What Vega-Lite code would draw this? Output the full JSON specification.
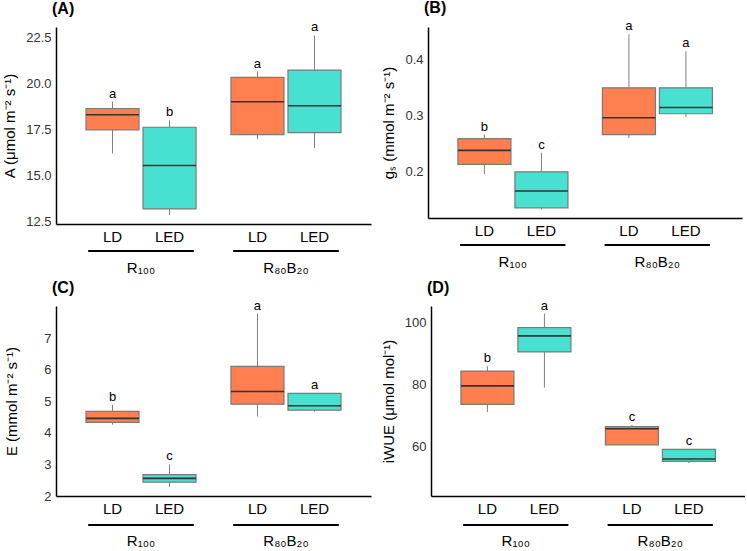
{
  "$schema": "https://vega.github.io/schema/vega-lite/v6.json",
  "background": "white",
  "padding": {"left": 2, "top": 0, "right": 0, "bottom": 0},
  "config": {
    "font": "Liberation Sans",
    "view": {"stroke": null},
    "axis": {"grid": false, "ticks": false, "domainColor": "black", "domainWidth": 1.5, "labelFont": "Liberation Sans", "titleFont": "Liberation Sans", "labelOverlap": false},
    "title": {"anchor": "start", "frame": "group", "fontSize": 16, "fontWeight": "bold", "offset": 0, "dx": -4, "color": "black"}
  },
  "datasets": {
    "stats": [
      {"panel": "A", "group": "R₁₀₀", "light": "LD", "lower": 16.18, "q1": 17.46, "median": 18.28, "q3": 18.62, "upper": 18.99, "letter": "a"},
      {"panel": "A", "group": "R₁₀₀", "light": "LED", "lower": 12.83, "q1": 13.16, "median": 15.52, "q3": 17.6, "upper": 17.98, "letter": "b"},
      {"panel": "A", "group": "R₈₀B₂₀", "light": "LD", "lower": 16.94, "q1": 17.2, "median": 18.99, "q3": 20.31, "upper": 20.63, "letter": "a"},
      {"panel": "A", "group": "R₈₀B₂₀", "light": "LED", "lower": 16.47, "q1": 17.31, "median": 18.77, "q3": 20.71, "upper": 22.59, "letter": "a"},
      {"panel": "B", "group": "R₁₀₀", "light": "LD", "lower": 0.196, "q1": 0.213, "median": 0.238, "q3": 0.259, "upper": 0.266, "letter": "b"},
      {"panel": "B", "group": "R₁₀₀", "light": "LED", "lower": 0.133, "q1": 0.136, "median": 0.166, "q3": 0.2, "upper": 0.234, "letter": "c"},
      {"panel": "B", "group": "R₈₀B₂₀", "light": "LD", "lower": 0.26, "q1": 0.266, "median": 0.296, "q3": 0.349, "upper": 0.444, "letter": "a"},
      {"panel": "B", "group": "R₈₀B₂₀", "light": "LED", "lower": 0.297, "q1": 0.303, "median": 0.314, "q3": 0.349, "upper": 0.414, "letter": "a"},
      {"panel": "C", "group": "R₁₀₀", "light": "LD", "lower": 4.26, "q1": 4.33, "median": 4.46, "q3": 4.68, "upper": 4.89, "letter": "b"},
      {"panel": "C", "group": "R₁₀₀", "light": "LED", "lower": 2.29, "q1": 2.44, "median": 2.56, "q3": 2.68, "upper": 3.0, "letter": "c"},
      {"panel": "C", "group": "R₈₀B₂₀", "light": "LD", "lower": 4.52, "q1": 4.91, "median": 5.31, "q3": 6.11, "upper": 7.78, "letter": "a"},
      {"panel": "C", "group": "R₈₀B₂₀", "light": "LED", "lower": 4.67, "q1": 4.72, "median": 4.86, "q3": 5.25, "upper": 5.25, "letter": "a"},
      {"panel": "D", "group": "R₁₀₀", "light": "LD", "lower": 71.0, "q1": 73.5, "median": 79.5, "q3": 84.3, "upper": 85.9, "letter": "b"},
      {"panel": "D", "group": "R₁₀₀", "light": "LED", "lower": 78.9, "q1": 90.5, "median": 95.7, "q3": 98.4, "upper": 102.9, "letter": "a"},
      {"panel": "D", "group": "R₈₀B₂₀", "light": "LD", "lower": 60.4, "q1": 60.4, "median": 65.6, "q3": 66.3, "upper": 66.8, "letter": "c"},
      {"panel": "D", "group": "R₈₀B₂₀", "light": "LED", "lower": 54.4, "q1": 55.0, "median": 55.8, "q3": 58.9, "upper": 58.9, "letter": "c"}
    ],
    "groups": [{"group": "R₁₀₀"}, {"group": "R₈₀B₂₀"}]
  },
  "spacing": 4,
  "vconcat": [
    {
      "spacing": 10,
      "hconcat": [
        {
          "title": {"text": "(A)"},
          "width": 315, "height": 197,
          "data": {"name": "stats"},
          "transform": [{"filter": "datum.panel === 'A'"}],
          "encoding": {
            "x": {"field": "group", "type": "nominal", "sort": ["R₁₀₀", "R₈₀B₂₀"], "scale": {"paddingInner": 0.241, "paddingOuter": 0.207},
                  "axis": {"title": null, "labelAngle": 0, "labelPadding": 36, "labelFontSize": 15, "labelColor": "black", "domainColor": "black"}}
          },
          "layer": [
            {"mark": {"type": "rule", "color": "#808080", "strokeWidth": 1},
             "encoding": {"xOffset": {"field": "light", "type": "nominal", "scale": {"paddingInner": 0.07, "paddingOuter": 0}},
                          "y": {"field": "lower", "type": "quantitative", "scale": {"domain": [12.34, 23.05], "nice": false, "zero": false},
                                "axis": {"title": "A (μmol m⁻² s⁻¹)", "values": [12.5, 15, 17.5, 20, 22.5], "format": ".1f", "labelOverlap": false, "labelFontSize": 13, "labelColor": "#333333", "titleFontSize": 15, "titleFontWeight": "normal", "titleColor": "black", "labelPadding": 5, "titlePadding": 8}},
                          "y2": {"field": "upper"}}},
            {"mark": {"type": "bar", "stroke": "#7a7a7a", "strokeWidth": 1.2},
             "encoding": {"xOffset": {"field": "light", "type": "nominal"},
                          "y": {"field": "q1", "type": "quantitative"}, "y2": {"field": "q3"},
                          "color": {"field": "light", "type": "nominal", "scale": {"domain": ["LD", "LED"], "range": ["#FF7F50", "#48E0D0"]}, "legend": null}}},
            {"mark": {"type": "bar", "stroke": "#333333", "strokeWidth": 1.6, "fill": null},
             "encoding": {"xOffset": {"field": "light", "type": "nominal"},
                          "y": {"field": "median", "type": "quantitative"}, "y2": {"field": "median"}}},
            {"mark": {"type": "text", "fontSize": 13, "baseline": "alphabetic", "dy": -4, "color": "black"},
             "encoding": {"xOffset": {"field": "light", "type": "nominal"},
                          "y": {"field": "upper", "type": "quantitative"}, "text": {"field": "letter"}}},
            {"mark": {"type": "text", "fontSize": 15, "baseline": "middle", "yOffset": 13, "color": "black"},
             "encoding": {"xOffset": {"field": "light", "type": "nominal"},
                          "y": {"datum": 12.34, "type": "quantitative"}, "text": {"field": "light"}}},
            {"data": {"name": "groups"},
             "mark": {"type": "rule", "color": "black", "strokeWidth": 2, "yOffset": 27},
             "encoding": {"x": {"field": "group", "type": "nominal", "bandPosition": 0.02}, "x2": {"field": "group", "bandPosition": 0.98},
                          "y": {"datum": 12.34, "type": "quantitative"}}}
          ]
        },
        {
          "title": {"text": "(B)"},
          "width": 314, "height": 191,
          "data": {"name": "stats"},
          "transform": [{"filter": "datum.panel === 'B'"}],
          "encoding": {
            "x": {"field": "group", "type": "nominal", "sort": ["R₁₀₀", "R₈₀B₂₀"], "scale": {"paddingInner": 0.241, "paddingOuter": 0.207},
                  "axis": {"title": null, "labelAngle": 0, "labelPadding": 36, "labelFontSize": 15, "labelColor": "black", "domainColor": "black"}}
          },
          "layer": [
            {"mark": {"type": "rule", "color": "#808080", "strokeWidth": 1},
             "encoding": {"xOffset": {"field": "light", "type": "nominal", "scale": {"paddingInner": 0.07, "paddingOuter": 0}},
                          "y": {"field": "lower", "type": "quantitative", "scale": {"domain": [0.118, 0.457], "nice": false, "zero": false},
                                "axis": {"title": "gₛ (mmol m⁻² s⁻¹)", "values": [0.2, 0.3, 0.4], "format": ".1f", "labelOverlap": false, "labelFontSize": 13, "labelColor": "#333333", "titleFontSize": 15, "titleFontWeight": "normal", "titleColor": "black", "labelPadding": 5, "titlePadding": 8}},
                          "y2": {"field": "upper"}}},
            {"mark": {"type": "bar", "stroke": "#7a7a7a", "strokeWidth": 1.2},
             "encoding": {"xOffset": {"field": "light", "type": "nominal"},
                          "y": {"field": "q1", "type": "quantitative"}, "y2": {"field": "q3"},
                          "color": {"field": "light", "type": "nominal", "scale": {"domain": ["LD", "LED"], "range": ["#FF7F50", "#48E0D0"]}, "legend": null}}},
            {"mark": {"type": "bar", "stroke": "#333333", "strokeWidth": 1.6, "fill": null},
             "encoding": {"xOffset": {"field": "light", "type": "nominal"},
                          "y": {"field": "median", "type": "quantitative"}, "y2": {"field": "median"}}},
            {"mark": {"type": "text", "fontSize": 13, "baseline": "alphabetic", "dy": -4, "color": "black"},
             "encoding": {"xOffset": {"field": "light", "type": "nominal"},
                          "y": {"field": "upper", "type": "quantitative"}, "text": {"field": "letter"}}},
            {"mark": {"type": "text", "fontSize": 15, "baseline": "middle", "yOffset": 13, "color": "black"},
             "encoding": {"xOffset": {"field": "light", "type": "nominal"},
                          "y": {"datum": 0.118, "type": "quantitative"}, "text": {"field": "light"}}},
            {"data": {"name": "groups"},
             "mark": {"type": "rule", "color": "black", "strokeWidth": 2, "yOffset": 27},
             "encoding": {"x": {"field": "group", "type": "nominal", "bandPosition": 0.02}, "x2": {"field": "group", "bandPosition": 0.98},
                          "y": {"datum": 0.118, "type": "quantitative"}}}
          ]
        }
      ]
    },
    {
      "spacing": 10,
      "hconcat": [
        {
          "title": {"text": "(C)"},
          "width": 315, "height": 190,
          "data": {"name": "stats"},
          "transform": [{"filter": "datum.panel === 'C'"}],
          "encoding": {
            "x": {"field": "group", "type": "nominal", "sort": ["R₁₀₀", "R₈₀B₂₀"], "scale": {"paddingInner": 0.241, "paddingOuter": 0.207},
                  "axis": {"title": null, "labelAngle": 0, "labelPadding": 37, "labelFontSize": 15, "labelColor": "black", "domainColor": "black"}}
          },
          "layer": [
            {"mark": {"type": "rule", "color": "#808080", "strokeWidth": 1},
             "encoding": {"xOffset": {"field": "light", "type": "nominal", "scale": {"paddingInner": 0.07, "paddingOuter": 0}},
                          "y": {"field": "lower", "type": "quantitative", "scale": {"domain": [2.0, 8.02], "nice": false, "zero": false},
                                "axis": {"title": "E (mmol m⁻² s⁻¹)", "values": [2, 3, 4, 5, 6, 7], "tickCount": 6, "labelOverlap": false, "labelSeparation": 0, "labelFontSize": 13, "labelColor": "#333333", "titleFontSize": 15, "titleFontWeight": "normal", "titleColor": "black", "labelPadding": 5, "titlePadding": 24}},
                          "y2": {"field": "upper"}}},
            {"mark": {"type": "bar", "stroke": "#7a7a7a", "strokeWidth": 1.2},
             "encoding": {"xOffset": {"field": "light", "type": "nominal"},
                          "y": {"field": "q1", "type": "quantitative"}, "y2": {"field": "q3"},
                          "color": {"field": "light", "type": "nominal", "scale": {"domain": ["LD", "LED"], "range": ["#FF7F50", "#48E0D0"]}, "legend": null}}},
            {"mark": {"type": "bar", "stroke": "#333333", "strokeWidth": 1.6, "fill": null},
             "encoding": {"xOffset": {"field": "light", "type": "nominal"},
                          "y": {"field": "median", "type": "quantitative"}, "y2": {"field": "median"}}},
            {"mark": {"type": "text", "fontSize": 13, "baseline": "alphabetic", "dy": -4, "color": "black"},
             "encoding": {"xOffset": {"field": "light", "type": "nominal"},
                          "y": {"field": "upper", "type": "quantitative"}, "text": {"field": "letter"}}},
            {"mark": {"type": "text", "fontSize": 15, "baseline": "middle", "yOffset": 13, "color": "black"},
             "encoding": {"xOffset": {"field": "light", "type": "nominal"},
                          "y": {"datum": 2.0, "type": "quantitative"}, "text": {"field": "light"}}},
            {"data": {"name": "groups"},
             "mark": {"type": "rule", "color": "black", "strokeWidth": 2, "yOffset": 29},
             "encoding": {"x": {"field": "group", "type": "nominal", "bandPosition": 0.02}, "x2": {"field": "group", "bandPosition": 0.98},
                          "y": {"datum": 2.0, "type": "quantitative"}}}
          ]
        },
        {
          "title": {"text": "(D)"},
          "width": 314, "height": 190,
          "data": {"name": "stats"},
          "transform": [{"filter": "datum.panel === 'D'"}],
          "encoding": {
            "x": {"field": "group", "type": "nominal", "sort": ["R₁₀₀", "R₈₀B₂₀"], "scale": {"paddingInner": 0.241, "paddingOuter": 0.207},
                  "axis": {"title": null, "labelAngle": 0, "labelPadding": 37, "labelFontSize": 15, "labelColor": "black", "domainColor": "black"}}
          },
          "layer": [
            {"mark": {"type": "rule", "color": "#808080", "strokeWidth": 1},
             "encoding": {"xOffset": {"field": "light", "type": "nominal", "scale": {"paddingInner": 0.07, "paddingOuter": 0}},
                          "y": {"field": "lower", "type": "quantitative", "scale": {"domain": [43.8, 105.4], "nice": false, "zero": false},
                                "axis": {"title": "iWUE (μmol mol⁻¹)", "values": [60, 80, 100], "labelOverlap": false, "labelFontSize": 13, "labelColor": "#333333", "titleFontSize": 15, "titleFontWeight": "normal", "titleColor": "black", "labelPadding": 5, "titlePadding": 8}},
                          "y2": {"field": "upper"}}},
            {"mark": {"type": "bar", "stroke": "#7a7a7a", "strokeWidth": 1.2},
             "encoding": {"xOffset": {"field": "light", "type": "nominal"},
                          "y": {"field": "q1", "type": "quantitative"}, "y2": {"field": "q3"},
                          "color": {"field": "light", "type": "nominal", "scale": {"domain": ["LD", "LED"], "range": ["#FF7F50", "#48E0D0"]}, "legend": null}}},
            {"mark": {"type": "bar", "stroke": "#333333", "strokeWidth": 1.6, "fill": null},
             "encoding": {"xOffset": {"field": "light", "type": "nominal"},
                          "y": {"field": "median", "type": "quantitative"}, "y2": {"field": "median"}}},
            {"mark": {"type": "text", "fontSize": 13, "baseline": "alphabetic", "dy": -4, "color": "black"},
             "encoding": {"xOffset": {"field": "light", "type": "nominal"},
                          "y": {"field": "upper", "type": "quantitative"}, "text": {"field": "letter"}}},
            {"mark": {"type": "text", "fontSize": 15, "baseline": "middle", "yOffset": 13, "color": "black"},
             "encoding": {"xOffset": {"field": "light", "type": "nominal"},
                          "y": {"datum": 43.8, "type": "quantitative"}, "text": {"field": "light"}}},
            {"data": {"name": "groups"},
             "mark": {"type": "rule", "color": "black", "strokeWidth": 2, "yOffset": 29},
             "encoding": {"x": {"field": "group", "type": "nominal", "bandPosition": 0.02}, "x2": {"field": "group", "bandPosition": 0.98},
                          "y": {"datum": 43.8, "type": "quantitative"}}}
          ]
        }
      ]
    }
  ]
}
